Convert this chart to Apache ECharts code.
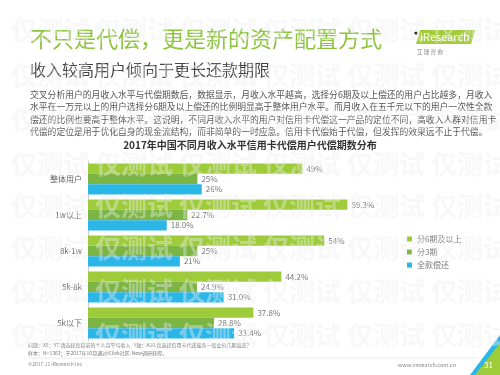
<!DOCTYPE html>
<html>
<head>
<meta charset="utf-8">
<script src="https://cdn.jsdelivr.net/npm/echarts@6/dist/echarts.min.js"></script>
<style>
  html, body { margin: 0; padding: 0; background: #fff; }
  #chart { width: 500px; height: 375px; }
</style>
</head>
<body>
<div id="chart"></div>
<script>
// 数据
const categories = ['整体用户', '1w以上', '8k-1w', '5k-8k', '5k以下'];
const seriesNames = ['分6期及以上', '分3期', '全款偿还'];
const sixPlus = ['49', '59.3', '54', '44.2', '37.8'];
const three = ['25', '22.7', '25', '24.9', '28.8'];
const fullPay = ['26', '18.0', '21', '31.0', '33.4'];

const paragraph = [
  '交叉分析用户的月收入水平与代偿期数后，数据显示，月收入水平越高，选择分6期及以上偿还的用户占比越多，月收入',
  '水平在一万元以上的用户选择分6期及以上偿还的比例明显高于整体用户水平。而月收入在五千元以下的用户一次性全款',
  '偿还的比例也要高于整体水平。这说明，不同月收入水平的用户对信用卡代偿这一产品的定位不同，高收入人群对信用卡',
  '代偿的定位是用于优化自身的现金流结构，而非简单的一时应急。信用卡代偿始于代偿，但发挥的效果远不止于代偿。'
];

const FONT = '"Noto Sans CJK SC", "Noto Sans", sans-serif';
const colors = ['#9dcb3a', '#7db544', '#2bb6e8'];

const chart = echarts.init(document.getElementById('chart'));

function makeSeries(name, arr, color) {
  return {
    name: name,
    type: 'bar',
    barGap: '0%',
    barCategoryGap: '14%',
    itemStyle: { color: color },
    label: {
      show: true,
      position: 'right',
      distance: 3,
      fontSize: 8,
      color: '#777',
      fontFamily: FONT,
      backgroundColor: 'rgba(255,255,255,0.85)',
      padding: [0, 1],
      formatter: p => arr[p.dataIndex] + '%'
    },
    data: arr.map(Number)
  };
}

// 水印
const marks = [];
[30, 75, 120, 164, 206, 248, 291, 335].forEach(y => {
  [50, 134, 218, 302, 386, 470].forEach(x => {
    marks.push({
      type: 'text', x: x, y: y, z: 50, silent: true,
      style: {
        text: '仅测试', fontSize: 26, fontWeight: 'bold', fontFamily: FONT,
        fill: 'rgba(238,238,238,0.4)', align: 'center', verticalAlign: 'middle'
      }
    });
  });
});

const texts = [
  { type: 'text', left: 30, top: 28, style: { text: '不只是代偿，更是新的资产配置方式', fontSize: 22, fill: '#8cc43c', fontFamily: FONT } },
  { type: 'text', left: 30, top: 62, style: { text: '收入较高用户倾向于更长还款期限', fontSize: 16, fill: '#444', fontFamily: FONT } },
  { type: 'text', left: 30, top: 88, style: { text: paragraph.join('\n'), fontSize: 8.8, lineHeight: 12.5, fill: '#555', fontFamily: FONT } },
  { type: 'text', left: 'center', top: 140, style: { text: '2017年中国不同月收入水平信用卡代偿用户代偿期数分布', fontSize: 10, fontWeight: 'bold', fill: '#333', fontFamily: FONT } },
  // logo
  { type: 'circle', shape: { cx: 416, cy: 33, r: 1.6 }, style: { fill: '#222' } },
  { type: 'polygon', shape: { points: [[420, 30], [475, 30], [471, 44], [416, 44]] }, style: { fill: '#a3cc39' } },
  { type: 'text', left: 420, top: 31, style: { text: 'iResearch', fontSize: 11, fill: '#fff', fontFamily: FONT } },
  { type: 'text', left: 417, top: 49, style: { text: '艾 瑞 咨 询', fontSize: 5.5, fill: '#888', fontFamily: FONT } },
  // footer
  { type: 'text', left: 28, top: 343, style: { text: '问题：X8：Y7.请选择您目前的个人月平均收入   Y轴：A10.您选择信用卡代还服务一般会分几期偿还？', fontSize: 5, fill: '#777', fontFamily: FONT } },
  { type: 'text', left: 28, top: 351, style: { text: '样本：N=1363；于2017年10月通过iClick社区-New调研获得。', fontSize: 5, fill: '#777', fontFamily: FONT } },
  { type: 'line', shape: { x1: 28, y1: 358, x2: 478, y2: 358 }, style: { stroke: '#ddd', lineWidth: 0.6 } },
  { type: 'text', left: 28, top: 362, style: { text: '©2017.11 iResearch Inc', fontSize: 5, fill: '#888', fontFamily: FONT } },
  { type: 'text', right: 44, top: 362, style: { text: 'www.iresearch.com.cn', fontSize: 5.5, fill: '#888', fontFamily: FONT } },
  { type: 'polygon', shape: { points: [[470, 375], [500, 335], [500, 375]] }, style: { fill: '#2bb6e8' } },
  { type: 'polygon', shape: { points: [[475, 375], [500, 343], [500, 375]] }, style: { fill: '#9dcb3a' } },
  { type: 'text', left: 484, top: 361, style: { text: '31', fontSize: 8, fill: '#fff', fontFamily: FONT } }
];

const option = {
  backgroundColor: '#fff',
  animation: false,
  textStyle: { fontFamily: FONT },
  grid: { left: 88, right: 62, top: 161, bottom: 34 },
  legend: {
    data: seriesNames,
    orient: 'vertical',
    left: 402,
    top: 230,
    icon: 'rect',
    itemWidth: 5,
    itemHeight: 5,
    itemGap: 5,
    textStyle: { fontSize: 8, color: '#777', fontFamily: FONT }
  },
  xAxis: {
    type: 'value',
    min: 0,
    max: 80,
    show: false
  },
  yAxis: {
    type: 'category',
    inverse: true,
    data: categories,
    axisLine: { lineStyle: { color: '#ccc' } },
    axisTick: { show: false },
    axisLabel: { fontSize: 8, color: '#666', margin: 6, fontFamily: FONT }
  },
  series: [
    makeSeries(seriesNames[0], sixPlus, colors[0]),
    makeSeries(seriesNames[1], three, colors[1]),
    makeSeries(seriesNames[2], fullPay, colors[2])
  ],
  graphic: texts.concat(marks)
};

chart.setOption(option);
</script>
</body>
</html>
